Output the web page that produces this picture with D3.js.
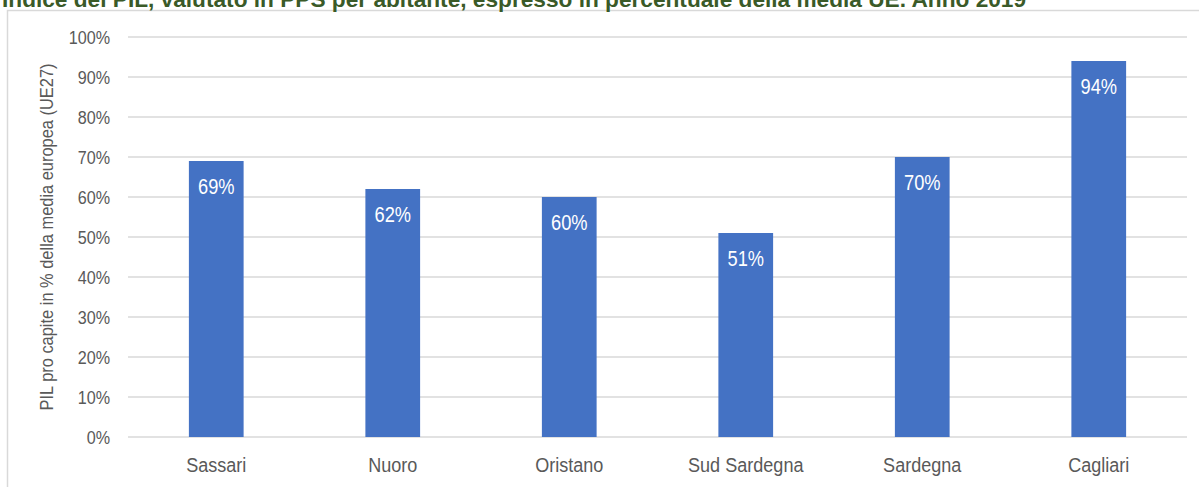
<!DOCTYPE html>
<html><head><meta charset="utf-8">
<script src="https://cdn.jsdelivr.net/npm/d3@7"></script>
<style>html,body{margin:0;padding:0;background:#fff;overflow:hidden}</style>
</head><body>
<svg id="c" width="1199" height="487"></svg>
<script>
const categories = ["Sassari","Nuoro","Oristano","Sud Sardegna","Sardegna","Cagliari"];
const values = [69, 62, 60, 51, 70, 94];
const yTicks = [0,10,20,30,40,50,60,70,80,90,100];
const title = "Indice del PIL, valutato in PPS per abitante, espresso in percentuale della media UE. Anno 2019";
const yTitle = "PIL pro capite in % della media europea (UE27)";

const FONT = "'Liberation Sans',Arial,sans-serif";
const svg = d3.select("#c");
const W = 1199, H = 487;
const m = {left:128, right:12, top:37, bottom:50};

// frame
svg.append("path").attr("d", `M7.5,${H} V10.5 H${W}`).attr("fill","none").attr("stroke","#d9d9d9").attr("stroke-width",1.5);

// title
const t = svg.append("text").attr("x",2).attr("y",6.5).attr("fill","#3a5a28")
  .attr("font-family",FONT).attr("font-weight","bold").attr("font-size",19).text(title);
const tw = t.node().getComputedTextLength();
t.attr("font-size", 19*1025/tw);

const x = d3.scaleBand().domain(categories).range([m.left, W-m.right]).paddingInner(0.69).paddingOuter(0.345);
const y = d3.scaleLinear().domain([0,100]).range([H-m.bottom, m.top]);

// gridlines
svg.append("g").selectAll("line").data(yTicks).join("line")
  .attr("x1",m.left).attr("x2",W-m.right)
  .attr("y1",d=>y(d)).attr("y2",d=>y(d))
  .attr("stroke","#d9d9d9").attr("stroke-width",1.5);

// helper: condensed text via horizontal scale
function narrow(sel, sx){
  sel.each(function(){
    const el = d3.select(this);
    const px = +el.attr("x") || 0, py = +el.attr("y") || 0;
    el.attr("x",0).attr("y",0).attr("transform",`translate(${px},${py}) scale(${sx},1)`);
  });
}

// y axis labels
const yAxis = d3.axisLeft(y).tickValues(yTicks).tickFormat(d=>d+"%").tickSize(0).tickPadding(0);
const ya = svg.append("g").attr("transform","translate(110,0)").call(yAxis);
ya.select(".domain").remove();
ya.selectAll("text").attr("font-family",FONT).attr("font-size",19).attr("fill","#595959").attr("dy","0.36em");
narrow(ya.selectAll("text"), 0.85);

// bars
svg.append("g").selectAll("rect").data(values).join("rect")
  .attr("x",(d,i)=>x(categories[i])).attr("width",x.bandwidth())
  .attr("y",d=>y(d)).attr("height",d=>y(0)-y(d)).attr("fill","#4472c4");

// value labels
const vl = svg.append("g").selectAll("text").data(values).join("text")
  .attr("x",(d,i)=>x(categories[i])+x.bandwidth()/2).attr("y",d=>y(d)+33)
  .attr("text-anchor","middle").attr("fill","#fff").attr("font-family",FONT).attr("font-size",22)
  .text(d=>d+"%");
narrow(vl, 0.83);

// x axis labels
const xAxis = d3.axisBottom(x).tickSize(0).tickPadding(0);
const xa = svg.append("g").attr("transform",`translate(0,${y(0)})`).call(xAxis);
xa.select(".domain").remove();
xa.selectAll("text").attr("font-family",FONT).attr("font-size",21).attr("fill","#595959").attr("dy",null).attr("y",35);
narrow(xa.selectAll("text"), 0.86);

// y title
const yt = svg.append("text").attr("text-anchor","middle").attr("font-family",FONT).attr("font-size",19).attr("fill","#595959").text(yTitle);
const yl = yt.node().getComputedTextLength();
yt.attr("transform",`translate(53,${(y(0)+y(100))/2}) rotate(-90) scale(${347/yl},1)`);
</script>
</body></html>
